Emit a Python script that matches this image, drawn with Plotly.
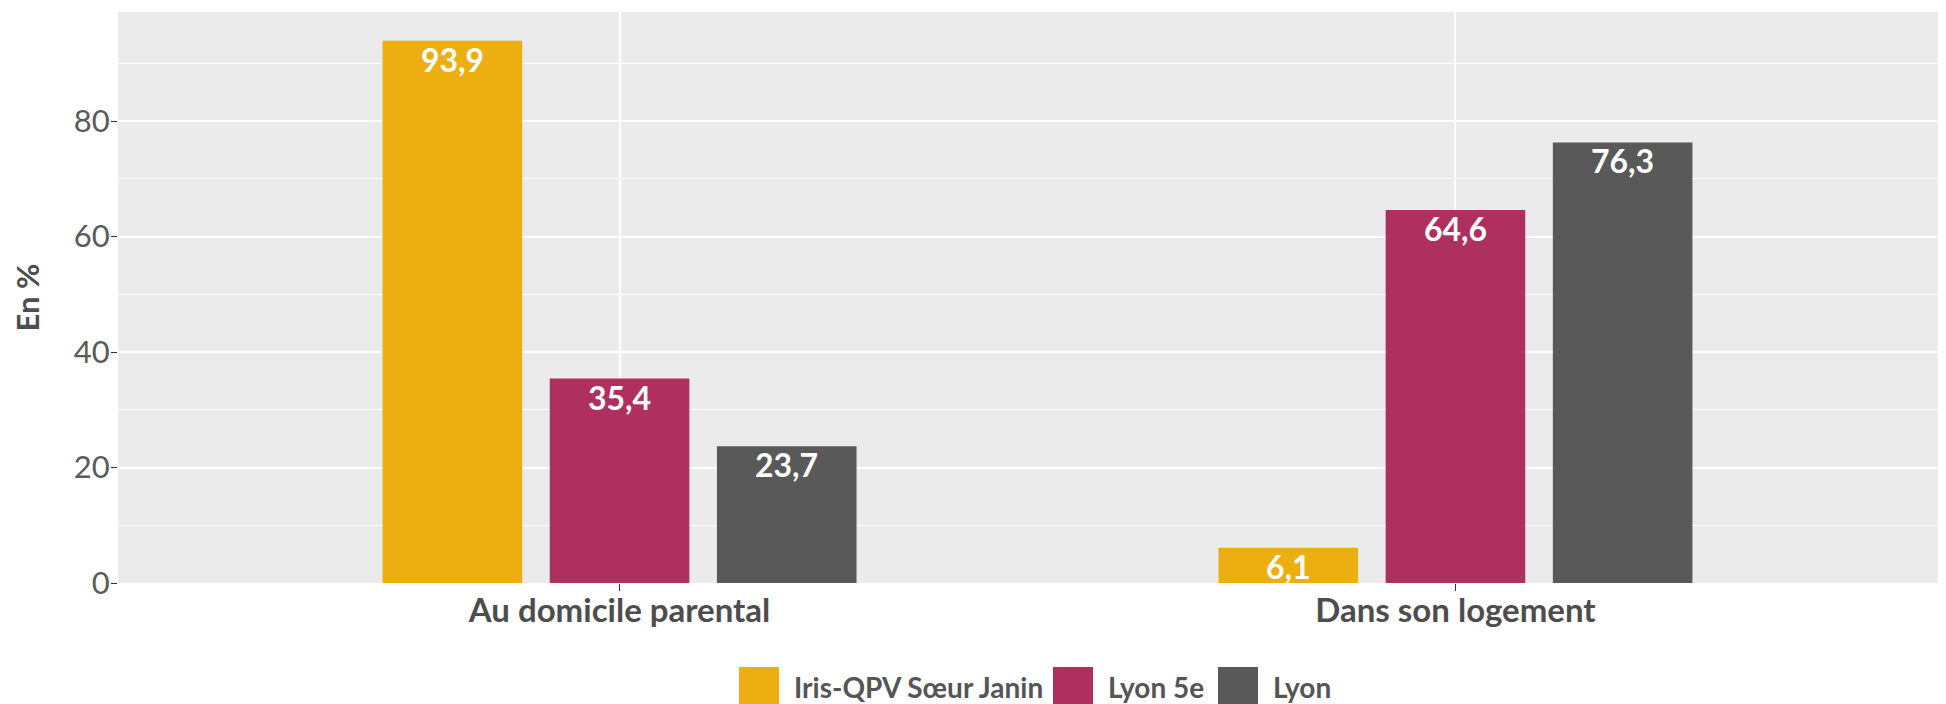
import plotly.graph_objects as go

categories = ["Au domicile parental", "Dans son logement"]
series_names = ["Iris-QPV Sœur Janin", "Lyon 5e", "Lyon"]
series_values = [
    [93.9, 6.1],
    [35.4, 64.6],
    [23.7, 76.3],
]
series_colors = ["#EDAE11", "#AF2F5E", "#595959"]
y_tickvals = [0, 20, 40, 60, 80]
y_minorvals = [10, 30, 50, 70, 90]
y_title = "En %"

# page body has an 8px margin: figure sits at (8, 8) in the window
W, H = 1949, 696
ML, MR, MT, MB = 110, 0, 4, 121
BARGAP = 0.4
BARGROUPGAP = 0.165
FONT = "Lato, 'Open Sans', sans-serif"
TXT = "#4D4D4D"

fig = go.Figure()
for name, vals, col in zip(series_names, series_values, series_colors):
    fig.add_trace(go.Bar(x=categories, y=vals, name=name, marker_color=col,
                         marker_line_width=0, showlegend=False))

def fmt(v):
    return f"{v:.1f}".replace(".", ",")

n = len(series_names)
slot = (1 - BARGAP) / n
annotations = []
for si, vals in enumerate(series_values):
    off = (si - (n - 1) / 2) * slot
    for ci, v in enumerate(vals):
        annotations.append(dict(x=ci + off, y=v, xref="x", yref="y", text=fmt(v),
                                showarrow=False, yanchor="top", yshift=3,
                                font=dict(family=FONT, size=32, color="white", weight="bold")))

# custom legend (large square keys, as in reference), placed relative to the plot's bottom-left
legend_items = [
    (621, series_names[0]),
    (935, series_names[1]),
    (1100, series_names[2]),
]
shapes = []
for (x0, name), col in zip(legend_items, series_colors):
    shapes.append(dict(type="rect", xref="paper", yref="paper", xsizemode="pixel", ysizemode="pixel",
                       xanchor=0, yanchor=0, x0=x0, x1=x0 + 40, y0=-124, y1=-84,
                       fillcolor=col, line=dict(width=0)))
    annotations.append(dict(xref="paper", yref="paper", x=0, y=0, xanchor="left", yanchor="middle",
                            xshift=x0 + 53, yshift=-104, text=name, showarrow=False,
                            font=dict(family=FONT, size=28, color="#555555", weight="bold")))

fig.update_layout(
    width=W, height=H,
    margin=dict(l=ML, r=MR, t=MT, b=MB),
    paper_bgcolor="white", plot_bgcolor="#EBEBEB",
    barmode="group", bargap=BARGAP, bargroupgap=BARGROUPGAP,
    showlegend=False,
    font=dict(family=FONT, color=TXT),
    annotations=annotations, shapes=shapes,
    xaxis=dict(range=[-0.6, 1.6], showgrid=True, gridcolor="white", gridwidth=1.5,
               ticks="outside", ticklen=7, tickcolor="#333333", tickwidth=1.3,
               tickfont=dict(family=FONT, size=33, color=TXT, weight="bold"),
               ticklabelstandoff=-9,
               zeroline=False, showline=False),
    yaxis=dict(range=[0, 98.9], tickmode="array", tickvals=y_tickvals,
               showgrid=True, gridcolor="white", gridwidth=1.5,
               minor=dict(tickmode="array", tickvals=y_minorvals, showgrid=True,
                          gridcolor="white", gridwidth=1.2),
               ticks="outside", ticklen=6, tickcolor="#333333", tickwidth=1.3,
               tickfont=dict(family=FONT, size=31, color="#5A5A5A"),
               ticklabelstandoff=-5,
               zeroline=False, showline=False,
               title=dict(text=y_title, standoff=27,
                          font=dict(family=FONT, size=31, color=TXT, weight="bold"))),
)

fig.write_html("out.html")
